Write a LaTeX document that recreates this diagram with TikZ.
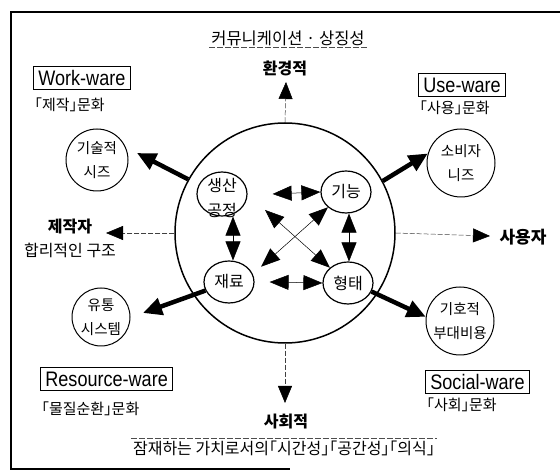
\documentclass[tikz,border=0pt]{standalone}
\usepackage{fontspec}
\setmainfont{Noto Sans CJK KR}
\newfontfamily\kortight[RawFeature=+halt]{Noto Sans CJK KR}
\newfontfamily\warefont[FakeStretch=0.86]{Liberation Sans}
\usetikzlibrary{arrows.meta, shapes.geometric}

\begin{document}
\begin{tikzpicture}[x=1pt, y=-1pt,
    kor/.style={font=\kortight\fontsize{15}{17}\selectfont},
    heading/.style={font=\fontsize{16}{18}\selectfont\bfseries},
    core/.style={draw, ellipse, line width=1.2pt, minimum width=50pt,
                 minimum height=42pt, inner sep=0pt,
                 font=\fontsize{16}{25}\selectfont, align=center},
    need/.style={draw, circle, line width=1pt, inner sep=0pt,
                 font=\fontsize{14.5}{24}\selectfont, align=center},
    warebox/.style={draw, line width=0.8pt, inner xsep=5pt, inner ysep=1pt,
                    minimum height=23pt, font=\warefont\fontsize{21}{22}\selectfont},
    link/.style={{Triangle[length=19pt,width=15pt]}-{Triangle[length=19pt,width=15pt]},
                 line width=0.5pt},
    ware/.style={-{Triangle[length=19pt,width=17pt]}, line width=4.5pt},
    axis/.style={-{Triangle[length=17pt,width=14pt,black]}, line width=0.5pt,
                 black!75, dash pattern=on 5pt off 2pt},
  ]
  \useasboundingbox (0,0) rectangle (560,470);

  % frame
  \draw[line width=1.5pt] (560,12) -- (11,12) -- (11,469) -- (290,469);

  % big circle and its four cores
  \node[draw, circle, line width=1.5pt, minimum size=220pt] (big) at (285,233) {};
  \node[core, minimum height=44pt] (proc) at (222,194) {};
  \node[font=\fontsize{16}{25}\selectfont, align=center, inner sep=0pt] (proctext) at (222,198) {생산\\공정};
  \node[core] (func) at (346,192) {기능};
  \node[core] (mat) at (229,282) {재료};
  \node[core] (form) at (348,283) {형태};

  \draw[link] ([xshift=25pt]proc.east) -- (func.west);
  \draw[link] ([xshift=15pt]mat.east) -- (form.west);
  \draw[link] ([xshift=11pt]proc.south) -- ([xshift=4pt]mat.north);
  \draw[link] ([xshift=3pt]func.south) -- ([xshift=1pt]form.north);
  \draw[link] ([xshift=25pt]proc.south east) -- (form.north west);
  \draw[link] (func.south west) -- ([xshift=14pt]mat.north east);

  % outer needs
  \node[need, minimum size=62pt] (tech) at (97,160) {기술적\\시즈};
  \node[need, minimum size=68pt] (cons) at (461,163) {소비자\\니즈};
  \node[need, minimum size=58pt] (dist) at (101,317) {유통\\시스템};
  \node[need, minimum size=68pt] (sym) at (460,321) {기호적\\부대비용};

  \coordinate (techtip) at (137,153);
  \coordinate (disttip) at (143,313);
  \draw[ware] (big.151) -- (techtip);
  \draw[ware] (big.28) -- (cons.164);
  \draw[ware] (mat.200) -- (disttip);
  \draw[ware] (form.-20) -- (sym.173);

  % ware boxes
  \node[warebox, anchor=west] (work) at (33,78) {Work-ware};
  \node[kor, anchor=west] (workc) at (31,105) {「제작」문화};
  \node[warebox, anchor=west] (use) at (418,85) {Use-ware};
  \node[kor, anchor=west] (usec) at (416,108) {「사용」문화};
  \node[warebox, anchor=west] (res) at (40,379) {Resource-ware};
  \node[kor, anchor=west] (resc) at (38,409) {「물질순환」문화};
  \node[warebox, anchor=west] (soc) at (425,382) {Social-ware};
  \node[kor, anchor=west] (socc) at (423,405) {「사회」문화};

  % axes
  \node[kor, font=\fontsize{16.5}{18}\selectfont, inner sep=2pt] (comm) at (288,38) {커뮤니케이션 · 상징성};
  \draw[line width=0.5pt, black!70, dash pattern=on 6pt off 2pt] (comm.south west) -- (comm.south east);
  \node[heading] (env) at (285,68) {환경적};
  \node[heading] (soci) at (286,422) {사회적};
  \node[kor, font=\kortight\fontsize{16}{18}\selectfont, inner sep=2pt] (latent) at (284,448) {잠재하는 가치로서의「시간성」「공간성」「의식」};
  \draw[line width=0.5pt, black!70, dash pattern=on 6pt off 2pt] (latent.north west) -- (latent.north east);
  \node[heading] (maker) at (70,227) {제작자};
  \node[kor, font=\fontsize{16}{18}\selectfont] (struct) at (70,250) {합리적인 구조};
  \node[heading, font=\fontsize{17}{19}\selectfont\bfseries] (user) at (523,237) {사용자};

  \coordinate (uptip) at (286,82);
  \coordinate (downtip) at (285,403);
  \coordinate (lefttip) at (106,233);
  \coordinate (righttip) at (490,236);
  \draw[axis] (big.north) -- (uptip);
  \draw[axis] (big.south) -- (downtip);
  \draw[axis] (big.west) -- (lefttip);
  \draw[axis] (big.east) -- (righttip);
\end{tikzpicture}
\end{document}
